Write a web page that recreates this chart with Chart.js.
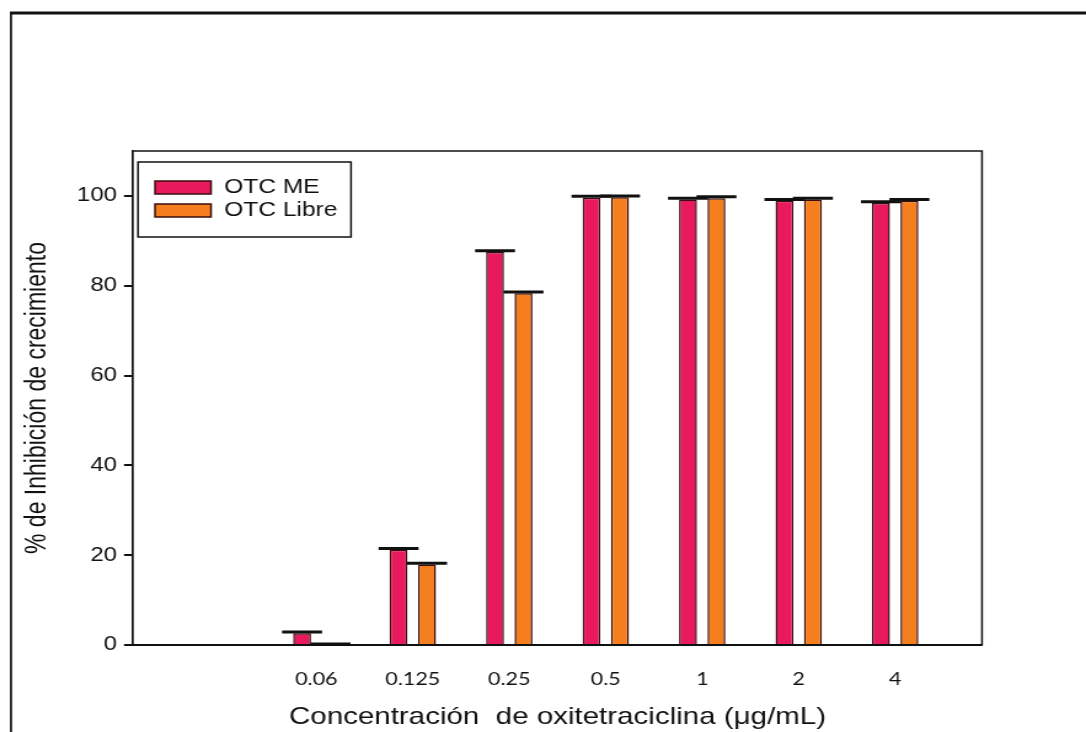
<!DOCTYPE html>
<html>
<head>
<meta charset="utf-8">
<script src="https://cdn.jsdelivr.net/npm/chart.js@4/dist/chart.umd.min.js"></script>
<style>
  html, body { margin: 0; padding: 0; background: #fff; overflow: hidden; }
  /* la figura original está estirada en horizontal */
  #wrap { width: 883px; height: 732px; transform: scale(1.2299, 1); transform-origin: 0 0; }
</style>
</head>
<body>
<div id="wrap"><canvas id="chart" width="883" height="732"></canvas></div>
<script>
// datos
const categories = ['0.06', '0.125', '0.25', '0.5', '1', '2', '4'];
const otcME = [2.6, 21.2, 87.5, 99.6, 99.2, 98.9, 98.4];
const otcMEErr = [0.3, 0.3, 0.3, 0.3, 0.3, 0.3, 0.3];
const otcLibre = [0, 17.9, 78.3, 99.7, 99.5, 99.2, 98.9];
const otcLibreErr = [0.2, 0.3, 0.3, 0.3, 0.3, 0.3, 0.3];
const yTicks = [0, 20, 40, 60, 80, 100];

const S = 1086 / 883;           // factor de estiramiento horizontal
const hx = px => px / S;        // px de pantalla -> px del canvas

const toPoints = arr => arr.map((v, i) => ({ x: i + 1, y: v }));

// marco de la figura y borde superior/derecho del área
const framePlugin = {
    id: 'frame',
    beforeDraw(chart) {
        const ctx = chart.ctx;
        ctx.save();
        ctx.strokeStyle = '#111';
        ctx.lineWidth = 3;
        ctx.beginPath();
        ctx.moveTo(hx(10), 13);
        ctx.lineTo(chart.width, 13);
        ctx.stroke();
        ctx.lineWidth = 1.7;
        ctx.beginPath();
        ctx.moveTo(hx(11), 12);
        ctx.lineTo(hx(11), chart.height);
        ctx.stroke();
        ctx.restore();
    },
    afterDraw(chart) {
        const { ctx, chartArea: a } = chart;
        ctx.save();
        ctx.strokeStyle = '#111';
        ctx.lineWidth = 1.5;
        ctx.beginPath();
        ctx.moveTo(a.left, a.top);
        ctx.lineTo(a.right, a.top);
        ctx.lineTo(a.right, a.bottom);
        ctx.stroke();
        ctx.restore();
    }
};

// barras de error (solo la parte superior con tapa)
const errorBarPlugin = {
    id: 'errorBars',
    afterDatasetsDraw(chart) {
        const ctx = chart.ctx;
        const yScale = chart.scales.y;
        const half = hx(20);
        ctx.save();
        ctx.strokeStyle = '#111';
        ctx.lineWidth = 3;
        chart.data.datasets.forEach((ds, di) => {
            const meta = chart.getDatasetMeta(di);
            meta.data.forEach((bar, i) => {
                const yTop = yScale.getPixelForValue(ds.data[i].y + ds.errors[i]);
                ctx.beginPath();
                ctx.moveTo(bar.x, bar.y);
                ctx.lineTo(bar.x, yTop);
                ctx.moveTo(bar.x - half, yTop);
                ctx.lineTo(bar.x + half, yTop);
                ctx.stroke();
            });
        });
        ctx.restore();
    }
};

// leyenda dentro del área del gráfico
const boxLegendPlugin = {
    id: 'boxLegend',
    afterDraw(chart) {
        const ctx = chart.ctx;
        const x0 = hx(138), y0 = 162;
        ctx.save();
        ctx.strokeStyle = '#111';
        ctx.lineWidth = 1.5;
        ctx.strokeRect(x0, y0, hx(213), 75);
        ctx.font = '20px "Liberation Sans", Arial, sans-serif';
        ctx.textBaseline = 'middle';
        chart.data.datasets.forEach((ds, i) => {
            const ry = y0 + 19 + i * 23;
            ctx.fillStyle = ds.backgroundColor;
            ctx.fillRect(x0 + hx(17), ry, hx(56), 13);
            ctx.strokeStyle = '#3a0d0d';
            ctx.lineWidth = 1.5;
            ctx.strokeRect(x0 + hx(17), ry, hx(56), 13);
            ctx.fillStyle = '#111';
            ctx.fillText(ds.label, x0 + hx(86), ry + 6.5);
        });
        ctx.restore();
    }
};

new Chart(document.getElementById('chart'), {
    type: 'bar',
    data: {
        datasets: [
            {
                label: 'OTC ME',
                data: toPoints(otcME),
                errors: otcMEErr,
                backgroundColor: '#e8195c',
                borderColor: '#3a0d0d',
                borderWidth: 1.5
            },
            {
                label: 'OTC Libre',
                data: toPoints(otcLibre),
                errors: otcLibreErr,
                backgroundColor: '#f57e1f',
                borderColor: '#3a0d0d',
                borderWidth: 1.5
            }
        ]
    },
    options: {
        responsive: false,
        animation: false,
        devicePixelRatio: 1,
        categoryPercentage: 0.59,
        barPercentage: 0.63,
        layout: { padding: { left: 7, right: 883 - hx(982), top: 151, bottom: 0 } },
        plugins: {
            legend: { display: false },
            tooltip: { enabled: false }
        },
        scales: {
            x: {
                type: 'linear',
                offset: false,
                min: -0.9,
                max: 7.9,
                afterBuildTicks: scale => {
                    scale.ticks = categories.map((c, i) => ({ value: i + 1 }));
                },
                afterFit: scale => { scale.height = 87; },
                grid: { display: false, drawTicks: false },
                border: { display: true, color: '#111', width: 2 },
                ticks: {
                    padding: 24,
                    color: '#111',
                    font: { family: 'Lato, "Open Sans", sans-serif', size: 17.5 },
                    callback: value => categories[value - 1] ?? ''
                },
                title: {
                    display: true,
                    text: 'Concentración  de oxitetraciclina (μg/mL)',
                    color: '#111',
                    padding: { top: 0, bottom: 0 },
                    font: { family: '"Liberation Sans", Arial, sans-serif', size: 24 }
                }
            },
            y: {
                min: 0,
                max: 110,
                afterBuildTicks: scale => {
                    scale.ticks = yTicks.map(v => ({ value: v }));
                },
                afterFit: scale => { scale.width = hx(133) - 7; },
                grid: {
                    display: true,
                    drawOnChartArea: false,
                    drawTicks: true,
                    tickLength: hx(9),
                    color: '#111',
                    lineWidth: 2
                },
                border: { display: true, color: '#111', width: 1.7 },
                ticks: {
                    padding: hx(7),
                    color: '#111',
                    font: { family: '"Liberation Sans", Arial, sans-serif', size: 19.5 }
                },
                title: {
                    display: true,
                    text: '% de Inhibición de crecimiento',
                    color: '#111',
                    padding: { top: 10, bottom: 0 },
                    font: { family: '"Liberation Sans", Arial, sans-serif', size: 23 }
                }
            }
        }
    },
    plugins: [framePlugin, errorBarPlugin, boxLegendPlugin]
});
</script>
</body>
</html>
